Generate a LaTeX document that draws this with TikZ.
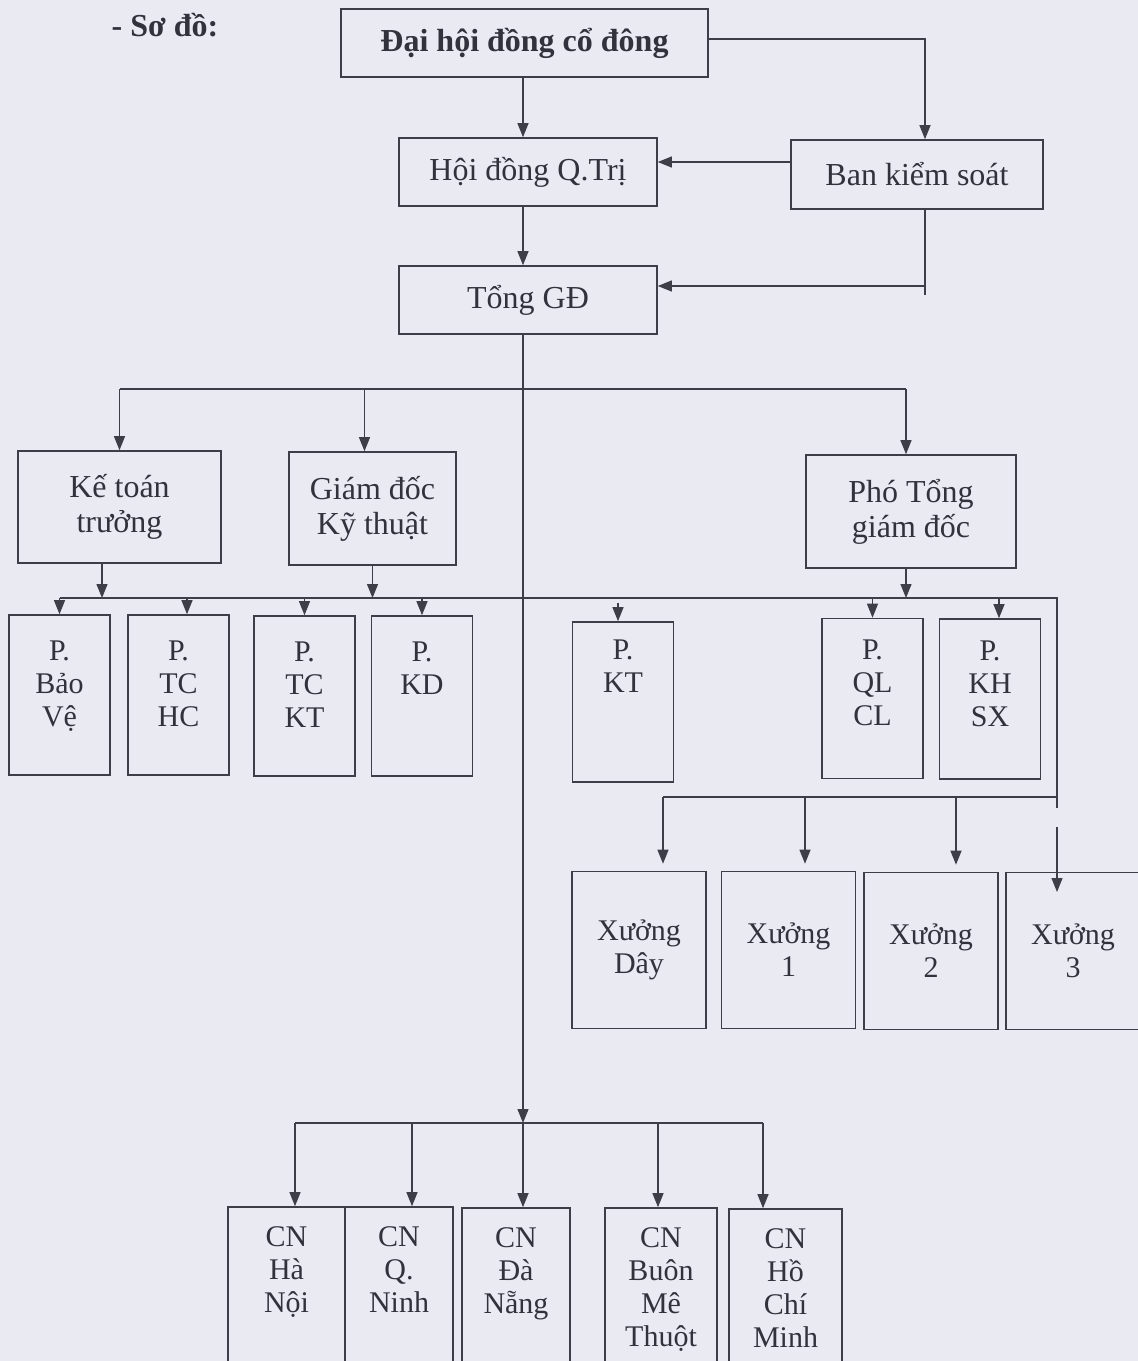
\documentclass[tikz,border=0pt]{standalone}
\usepackage{fontspec}
\setmainfont{Liberation Serif}
\usetikzlibrary{arrows.meta, calc}
\definecolor{scanBg}  {RGB}{234,234,243}
\definecolor{inkLine} {RGB}{ 62, 62, 72}
\definecolor{inkText} {RGB}{ 50, 50, 60}

\begin{document}
\begin{tikzpicture}[
  x=0.5pt, y=-0.5pt,
  %% Unit box (text centred)
  box/.style={
    rectangle, draw=inkLine, line width=0.8pt, inner sep=2pt,
    align=center, text=inkText, font=\fontsize{16}{17.5}\selectfont
  },
  %% Department box (text hung from the top edge)
  dept/.style={box, minimum width=50.5pt, minimum height=80pt},
  %% Workshop box
  xws/.style={box, minimum width=67pt, minimum height=78.5pt,
    font=\fontsize{15}{16.5}\selectfont},
  %% Branch box (runs off the page)
  branch/.style={box, minimum height=85pt},
  %% Text placed at the top of a tall box
  toptxt/.style={anchor=north, align=center, inner sep=0pt, text=inkText,
    font=\fontsize{15}{16.5}\selectfont},
  ptxt/.style={toptxt, yshift=-13pt},
  cntxt/.style={toptxt, yshift=-10pt},
  %% Connectors
  conn/.style={draw=inkLine, line width=0.6pt},
  arr/.style={conn, -{Triangle[length=7pt,width=5.5pt]}},
]

%% ── PAGE ───────────────────────────────────────────────────────────────────
\useasboundingbox (0,0) rectangle (1138,1361);
\fill[scanBg] (0,0) rectangle (1138,1361);
\clip (0,0) rectangle (1138,1361);

%% ── HELPER COORDINATES ─────────────────────────────────────────────────────
\coordinate (spine)    at (523,0);
\coordinate (bksCol)   at (925,0);
\coordinate (bksRow)   at (0,162);
\coordinate (bksTail)  at (925,295);
\coordinate (bksTurn)  at (925,286);
\coordinate (busA)     at (0,389);
\coordinate (busB)     at (0,598);
\coordinate (busBend)  at (1057,598);
\coordinate (busBstub) at (1057,808);
\coordinate (busX)     at (0,797);
\coordinate (x3from)   at (1057,827);
\coordinate (x3to)     at (1057,892);
\coordinate (busCN)    at (0,1123);

%% ── TITLE ──────────────────────────────────────────────────────────────────
\node[font=\bfseries\fontsize{16}{17.5}\selectfont, text=inkText]
  (sodo) at (165,25) {- Sơ đồ:};

%% ── BOARD LEVEL ────────────────────────────────────────────────────────────
\node[box, font=\bfseries\fontsize{16}{17.5}\selectfont,
      minimum width=183.5pt, minimum height=34pt]
  (dhdcd) at (524.5,43) {Đại hội đồng cổ đông};
\node[box, minimum width=129pt, minimum height=34pt]
  (hdqt) at (528,172) {Hội đồng Q.Trị};
\node[box, minimum width=126pt, minimum height=34.5pt]
  (bks) at (917,174.5) {Ban kiểm soát};
\node[box, minimum width=129pt, minimum height=34pt]
  (tgd) at (528,300) {Tổng GĐ};

%% ── DIRECTORS ──────────────────────────────────────────────────────────────
\node[box, minimum width=101.5pt, minimum height=56pt]
  (ktt) at (119.5,507) {Kế toán\\trưởng};
\node[box, minimum width=83.5pt, minimum height=56.5pt]
  (gdkt) at (372.5,508.5) {Giám đốc\\Kỹ thuật};
\node[box, minimum width=105pt, minimum height=56.5pt]
  (ptgd) at (911,511.5) {Phó Tổng\\giám đốc};

%% ── DEPARTMENTS ────────────────────────────────────────────────────────────
\node[dept, label={[ptxt]north:{P.\\Bảo\\Vệ}}]  (pbv)   at (59.5,695)  {};
\node[dept, label={[ptxt]north:{P.\\TC\\HC}}]   (ptchc) at (178.5,695) {};
\node[dept, label={[ptxt]north:{P.\\TC\\KT}}]   (ptckt) at (304.5,696) {};
\node[dept, label={[ptxt]north:{P.\\KD}}]       (pkd)   at (422,696)   {};
\node[dept, label={[ptxt, yshift=4pt]north:{P.\\KT}}]
  (pkt) at (623,702) {};
\node[dept, label={[ptxt, yshift=2pt]north:{P.\\QL\\CL}}]
  (pqlcl) at (872.5,698.5) {};
\node[dept, label={[ptxt, yshift=2pt]north:{P.\\KH\\SX}}]
  (pkhsx) at (990,699) {};

%% ── WORKSHOPS ──────────────────────────────────────────────────────────────
\node[xws] (xday) at (639,950)   {Xưởng\\Dây};
\node[xws] (x1)   at (788.5,950) {Xưởng\\1};
\node[xws] (x2)   at (931,951)   {Xưởng\\2};
\node[xws] (x3)   at (1073,951)  {Xưởng\\3};

%% ── BRANCHES ───────────────────────────────────────────────────────────────
\node[branch, minimum width=58.5pt, label={[cntxt]north:{CN\\Hà\\Nội}}]
  (cnhn) at (286.5,1292) {};
\node[branch, minimum width=54pt, label={[cntxt]north:{CN\\Q.\\Ninh}}]
  (cnqn) at (399,1292) {};
\node[branch, minimum width=54pt, label={[cntxt]north:{CN\\Đà\\Nẵng}}]
  (cndn) at (516,1293) {};
\node[branch, minimum width=56pt, label={[cntxt]north:{CN\\Buôn\\Mê\\Thuột}}]
  (cnbmt) at (661,1293) {};
\node[branch, minimum width=56.5pt, label={[cntxt]north:{CN\\Hồ\\Chí\\Minh}}]
  (cnhcm) at (785.5,1294) {};

%% ── BOARD LINKS ────────────────────────────────────────────────────────────
\draw[arr] (dhdcd.south -| spine) -- (hdqt.north -| spine);
\draw[arr] ([yshift=2pt]dhdcd.east) -| (bks.north -| bksCol);
\draw[arr] (bks.west |- bksRow) -- (hdqt.east |- bksRow);
\draw[arr] (hdqt.south -| spine) -- (tgd.north -| spine);
\draw[conn] (bks.south -| bksCol) -- (bksTail);
\draw[arr] (bksTurn) -- (tgd.east |- bksTurn);

%% ── TO DIRECTORS ───────────────────────────────────────────────────────────
\draw[conn] (ktt.north |- busA) -- ([xshift=-2.5pt]ptgd.north |- busA);
\draw[arr] (ktt.north |- busA) -- (ktt.north);
\draw[arr] ([xshift=-4pt]gdkt.north |- busA) -- ([xshift=-4pt]gdkt.north);
\draw[arr] ([xshift=-2.5pt]ptgd.north |- busA) -- ([xshift=-2.5pt]ptgd.north);

%% ── TO DEPARTMENTS ─────────────────────────────────────────────────────────
\draw[arr] ([xshift=-8.75pt]ktt.south) -- ([xshift=-8.75pt]ktt.south |- busB);
\draw[arr] (gdkt.south) -- (gdkt.south |- busB);
\draw[arr] ([xshift=-2.5pt]ptgd.south) -- ([xshift=-2.5pt]ptgd.south |- busB);
\draw[conn] (pbv.north |- busB) -- (busBend) -- (busBstub);
\draw[arr] (pbv.north |- busB) -- (pbv.north);
\draw[arr] ([xshift=4.25pt]ptchc.north |- busB) -- ([xshift=4.25pt]ptchc.north);
\draw[arr] (ptckt.north |- busB) -- (ptckt.north);
\draw[arr] (pkd.north |- busB) -- (pkd.north);
\draw[arr] ([xshift=-2.5pt,yshift=-2.5pt]pkt.north |- busB)
  -- ([xshift=-2.5pt]pkt.north);
\draw[arr] (pqlcl.north |- busB) -- (pqlcl.north);
\draw[arr] ([xshift=4.5pt]pkhsx.north |- busB) -- ([xshift=4.5pt]pkhsx.north);

%% ── TO WORKSHOPS ───────────────────────────────────────────────────────────
\draw[conn] ([xshift=12pt]xday.north |- busX) -- (busBend |- busX);
\draw[arr] ([xshift=12pt]xday.north |- busX) -- ([xshift=12pt,yshift=3.5pt]xday.north);
\draw[arr] ([xshift=8.25pt]x1.north |- busX) -- ([xshift=8.25pt,yshift=3.5pt]x1.north);
\draw[arr] ([xshift=12.5pt]x2.north |- busX) -- ([xshift=12.5pt,yshift=3.5pt]x2.north);
\draw[arr] (x3from) -- (x3to);

%% ── TO BRANCHES ────────────────────────────────────────────────────────────
\draw[arr] (tgd.south -| spine) -- (spine |- busCN);
\draw[conn] ([xshift=4.25pt]cnhn.north |- busCN) -- ([xshift=-11.25pt]cnhcm.north |- busCN);
\draw[arr] ([xshift=4.25pt]cnhn.north |- busCN) -- ([xshift=4.25pt]cnhn.north);
\draw[arr] ([xshift=6.5pt]cnqn.north |- busCN) -- ([xshift=6.5pt]cnqn.north);
\draw[arr] (spine |- busCN) -- (cndn.north -| spine);
\draw[arr] ([xshift=-1.5pt]cnbmt.north |- busCN) -- ([xshift=-1.5pt]cnbmt.north);
\draw[arr] ([xshift=-11.25pt]cnhcm.north |- busCN) -- ([xshift=-11.25pt]cnhcm.north);

\end{tikzpicture}
\end{document}
